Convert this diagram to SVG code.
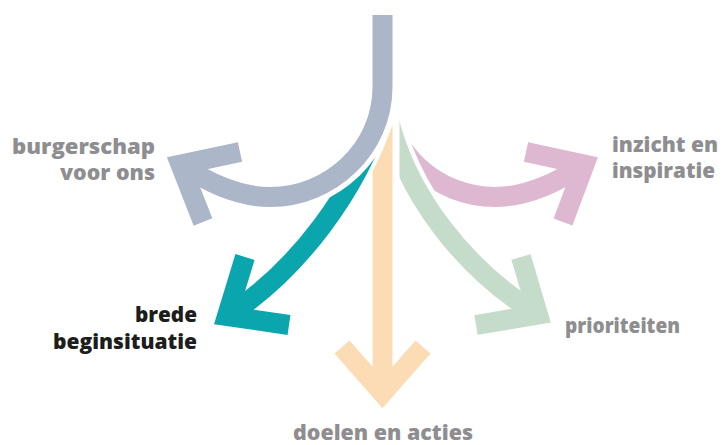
<svg xmlns="http://www.w3.org/2000/svg" width="724" height="445" viewBox="0 0 724 445">
<style>
.lbl{font-family:"Open Sans","Liberation Sans",sans-serif;font-weight:800;font-size:21px;fill:#8e8e90}
.dark{fill:#1d1d1b}
.sh{fill:none;stroke-width:20;stroke-linecap:butt;stroke-linejoin:miter}
.wo{fill:none;stroke:#ffffff;stroke-linecap:butt}
.grey{stroke:#abb6c8}.teal{stroke:#0ba5ae}.orange{stroke:#fcdcb4}.green{stroke:#c4dcc9}.pink{stroke:#ddb8d0}
</style>
<rect width="724" height="445" fill="#ffffff"/>
<g id="connectors">
  <g id="arrow-pink">
    <path class="sh pink" d="M387,100 C387,150 436,197 495,197 C530,197 560,180 584.5,164.6"/>
    <polyline class="sh pink" points="526,152 584.5,164.6 563,222"/>
  </g>
  <g id="arrow-green">
    <path class="wo" stroke-width="29" d="M386,108 C404,195 466.3,270.4 538,314.5"/>
    <path class="sh green" d="M386,108 C404,195 466.3,270.4 538,314.5"/>
    <polyline class="sh green" points="521,257 538,314.5 476,325"/>
  </g>
  <g id="arrow-orange">
    <path class="wo" stroke-width="34" d="M382.5,100 V393"/>
    <path class="sh orange" d="M382.5,100 V393"/>
    <polyline class="sh orange" points="342,347 382.5,393 423,347"/>
  </g>
  <g id="arrow-teal">
    <path class="wo" stroke-width="28" d="M382,112 C358,188 298.7,270.4 227,316"/>
    <path class="sh teal" d="M382,112 C358,188 298.7,270.4 227,316"/>
    <polyline class="sh teal" points="245,257 227,316 289,325"/>
  </g>
  <g id="arrow-grey">
    <path class="wo" stroke-width="30" d="M382.5,15 V87 C382.5,148 331,197 270,197 C235,197 205,180 180.5,164.6"/>
    <path class="sh grey" d="M382.5,15 V87 C382.5,148 331,197 270,197 C235,197 205,180 180.5,164.6"/>
    <polyline class="sh grey" points="240,152 180.5,164.6 203,222"/>
  </g>
</g>
<g id="node-burgerschap">
  <text class="lbl" x="12" y="154" textLength="143" lengthAdjust="spacingAndGlyphs">burgerschap</text>
  <text class="lbl" x="60" y="179.5" textLength="95" lengthAdjust="spacingAndGlyphs">voor ons</text>
</g>
<g id="node-inzicht">
  <text class="lbl" x="612" y="152" textLength="106" lengthAdjust="spacingAndGlyphs">inzicht en</text>
  <text class="lbl" x="612" y="178" textLength="103" lengthAdjust="spacingAndGlyphs">inspiratie</text>
</g>
<g id="node-brede">
  <text class="lbl dark" x="135" y="322" textLength="62" lengthAdjust="spacingAndGlyphs">brede</text>
  <text class="lbl dark" x="53" y="348.5" textLength="144" lengthAdjust="spacingAndGlyphs">beginsituatie</text>
</g>
<g id="node-prioriteiten">
  <text class="lbl" x="565" y="332.5" textLength="115" lengthAdjust="spacingAndGlyphs">prioriteiten</text>
</g>
<g id="node-doelen">
  <text class="lbl" x="293" y="440" textLength="180" lengthAdjust="spacingAndGlyphs">doelen en acties</text>
</g>
</svg>
